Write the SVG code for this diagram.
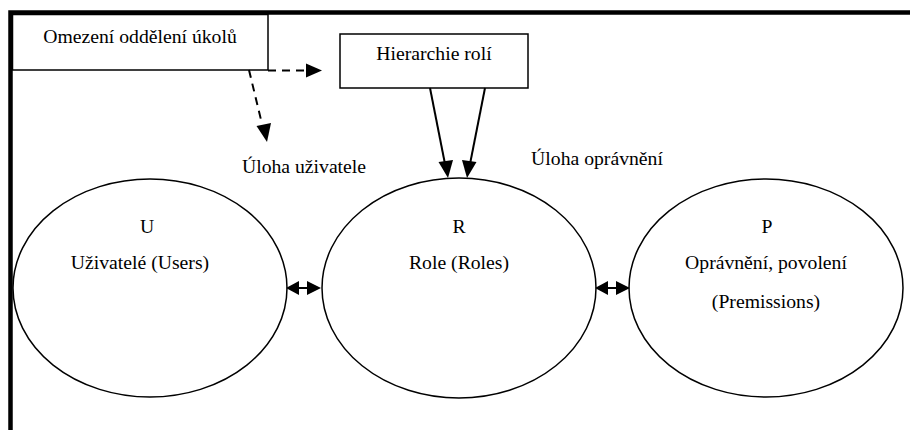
<svg xmlns="http://www.w3.org/2000/svg" width="910" height="430" viewBox="0 0 910 430">
  <style>
    .box { fill: #fff; stroke: #000; stroke-width: 1.5; }
    .ell { fill: #fff; stroke: #000; stroke-width: 1.5; }
    .t { font-family: "Liberation Serif", "Times New Roman", "DejaVu Serif", serif; font-size: 19.7px; fill: #000; text-anchor: middle; }
    .dash { fill: none; stroke: #000; stroke-width: 2; stroke-dasharray: 8 6; }
    .solid { fill: none; stroke: #000; stroke-width: 2; }
    .head { fill: #000; }
  </style>

  <!-- outer frame: heavy top and left rules -->
  <g id="frame">
    <path d="M10.5,430 L10.5,12.5 L910,12.5" fill="none" stroke="#000" stroke-width="4.5"/>
  </g>

  <g id="sod">
    <rect class="box" x="12.5" y="14.5" width="255.5" height="55.5"/>
    <text class="t" x="140" y="43">Omezení oddělení úkolů</text>
  </g>

  <g id="hierarchy">
    <rect class="box" x="340" y="34" width="188" height="54"/>
    <text class="t" x="434" y="60">Hierarchie rolí</text>
  </g>

  <g id="users">
    <ellipse class="ell" cx="150" cy="288" rx="137" ry="109"/>
    <text class="t" x="147" y="233">U</text>
    <text class="t" x="140" y="269">Uživatelé (Users)</text>
  </g>

  <g id="roles">
    <ellipse class="ell" cx="459" cy="288" rx="137" ry="110"/>
    <text class="t" x="459" y="233">R</text>
    <text class="t" x="459" y="269">Role (Roles)</text>
  </g>

  <g id="permissions">
    <ellipse class="ell" cx="766" cy="288" rx="137" ry="109"/>
    <text class="t" x="767" y="233">P</text>
    <text class="t" x="766" y="269">Oprávnění, povolení</text>
    <text class="t" x="766" y="308">(Premissions)</text>
  </g>

  <g id="labels">
    <text class="t" x="304" y="173">Úloha uživatele</text>
    <text class="t" x="597" y="165">Úloha oprávnění</text>
  </g>

  <g id="connectors">
    <line class="dash" x1="268" y1="70.5" x2="307" y2="70.5"/>
    <path class="head" d="M306,63.5 L322,70.5 L306,77.5 z"/>
    <line class="dash" x1="249" y1="70" x2="262" y2="124"/>
    <path class="head" d="M256.5,126 L267,142 L271,123 z"/>

    <line class="solid" x1="430" y1="88" x2="445" y2="164"/>
    <path class="head" d="M438.5,162 L448,178 L453,160 z"/>
    <line class="solid" x1="485" y1="88" x2="470" y2="164"/>
    <path class="head" d="M462,160 L467,178 L476.5,162 z"/>

    <path class="head" d="M286,288 L299,281 L299,295 z"/>
    <line class="solid" x1="298" y1="288" x2="308" y2="288"/>
    <path class="head" d="M321,288 L307,281 L307,295 z"/>

    <path class="head" d="M595,288 L608,281 L608,295 z"/>
    <line class="solid" x1="607" y1="288" x2="617" y2="288"/>
    <path class="head" d="M630,288 L616,281 L616,295 z"/>
  </g>
</svg>
